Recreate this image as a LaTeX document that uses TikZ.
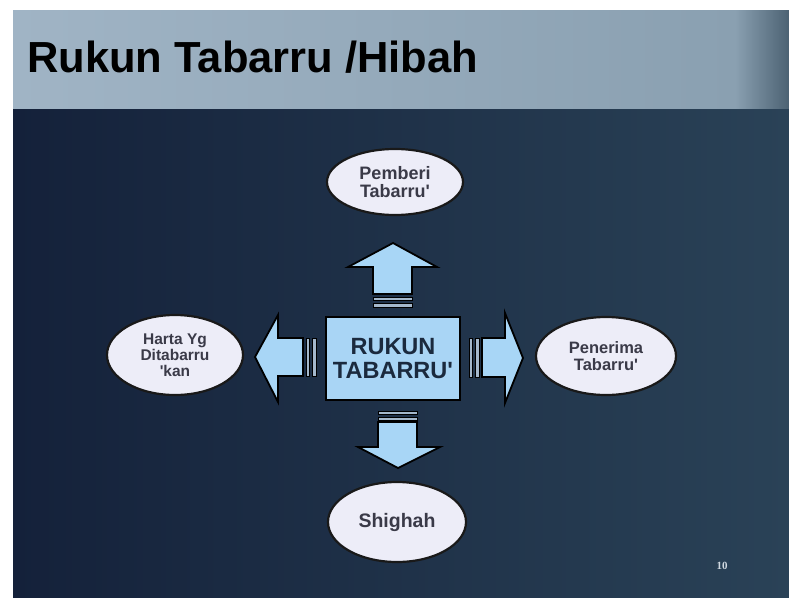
\documentclass[tikz,border=0pt]{standalone}
\usepackage{fontspec}
\setmainfont{Liberation Sans}
\newfontfamily\numfont{Liberation Serif}
\usetikzlibrary{shapes.geometric}
\newcommand{\qs}{\textquotesingle}
\definecolor{bgL}{HTML}{14213A}
\definecolor{bgR}{HTML}{2A4257}
\definecolor{barL}{HTML}{A0B4C5}
\definecolor{barM}{HTML}{8AA0B1}
\definecolor{barR}{HTML}{4C6273}
\definecolor{arrowblue}{HTML}{A8D6F6}
\definecolor{stripecol}{HTML}{A4B8CC}
\definecolor{boxblue}{HTML}{A9D5F5}
\definecolor{boxtext}{HTML}{1B2A3E}
\definecolor{ellfill}{HTML}{EDEDF8}
\definecolor{elltext}{HTML}{3A3A48}
\definecolor{numcol}{HTML}{D0D8E0}
\tikzset{
  arrowbox/.style={fill=arrowblue, draw=black, line width=1.8pt, line join=miter},
  stripebox/.style={fill=stripecol, draw=black, line width=1pt},
  ell/.style={ellipse, draw=black!90, line width=2.2pt, fill=ellfill, inner sep=0pt,
    text=elltext, align=center},
}
\begin{document}
\begin{tikzpicture}[x=1pt,y=-1pt]
\useasboundingbox (0,0) rectangle (789,597);
\fill[white] (0,0) rectangle (789,597);
% slide background
\shade[left color=bgL, right color=bgR] (13,108) rectangle (789,597);
% title bar
\shade[left color=barL, right color=barM] (13,10) rectangle (735,108);
\shade[left color=barM, right color=barR] (735,10) rectangle (789,108);
\node[anchor=base west, inner sep=0pt, text=black,
  font=\fontsize{43.5}{48}\selectfont\bfseries] (title) at (27,72) {Rukun Tabarru /Hibah};

% central box
\node[draw=black, line width=2pt, fill=boxblue, minimum width=134pt, minimum height=83pt,
  inner sep=0pt, align=center, text=boxtext, font=\fontsize{23.5}{23.5}\selectfont\bfseries]
  (rukun) at (393,358.5) {RUKUN\\TABARRU\qs};

% up arrow
\draw[arrowbox] (393,243) -- (437,267) -- (412,267) -- (412,294) -- (373,294) -- (373,267) -- (348,267) -- cycle;
\draw[stripebox] (373,297) rectangle (412,300.5);
\draw[stripebox] (373,303.5) rectangle (412,307);
% down arrow
\draw[stripebox] (378,411) rectangle (417,414.5);
\draw[stripebox] (378,417) rectangle (417,420);
\draw[arrowbox] (378,422) -- (417,422) -- (417,447) -- (440,447) -- (398,468) -- (358,447) -- (378,447) -- cycle;
% left arrow
\draw[arrowbox] (255,357) -- (278,315) -- (278,338) -- (303,338) -- (303,376) -- (278,376) -- (278,402) -- cycle;
\draw[stripebox] (306,338) rectangle (309.5,376);
\draw[stripebox] (312.5,338) rectangle (316,376);
% right arrow
\draw[stripebox] (469,338) rectangle (472.5,377);
\draw[stripebox] (475.5,338) rectangle (479,377);
\draw[arrowbox] (523,358) -- (505,313) -- (505,338) -- (482,338) -- (482,377) -- (505,377) -- (505,403) -- cycle;

% ellipses
\node[ell, minimum width=136pt, minimum height=66pt, font=\fontsize{18}{18.5}\selectfont\bfseries] (giver) at (395,182) {Pemberi\\Tabarru\qs};
\node[ell, minimum width=136pt, minimum height=80pt, font=\fontsize{15.5}{16}\selectfont\bfseries] (harta) at (175,355) {Harta Yg\\Ditabarru\\\qs kan};
\node[ell, minimum width=140pt, minimum height=78pt, font=\fontsize{16.5}{17}\selectfont\bfseries] (receiver) at (606,356) {Penerima\\Tabarru\qs};
\node[ell, minimum width=138pt, minimum height=80pt, font=\fontsize{19.5}{20}\selectfont\bfseries] (shighah) at (397,522) {Shighah};

% slide number
\node[inner sep=0pt, text=numcol, font=\numfont\bfseries\fontsize{11}{12}\selectfont] (num) at (722,566) {10};
\end{tikzpicture}
\end{document}
